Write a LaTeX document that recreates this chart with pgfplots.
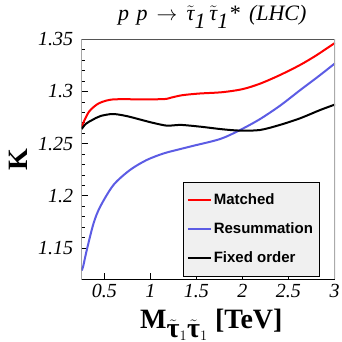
\documentclass[border=0pt]{standalone}
\usepackage{fontspec}
\setmainfont{Liberation Serif}
\newfontfamily\legfont{Liberation Sans}
\usepackage{pgfplots}
\pgfplotsset{compat=1.18}
\definecolor{resblue}{RGB}{92,92,228}
\definecolor{leggray}{RGB}{240,240,240}
\definecolor{topgray}{RGB}{85,85,85}
\definecolor{rightgray}{RGB}{170,170,170}
\newcommand{\ttau}{\tilde{\mbox{τ}}}
\begin{document}
\begin{tikzpicture}
\begin{axis}[
  scale only axis,
  width=253.3pt, height=240pt,
  xmin=0.255, xmax=3.005,
  ymin=1.12, ymax=1.35,
  xtick={0.5,1,1.5,2,2.5,3},
  xticklabels={0.5,1,1.5,2,2.5,3},
  ytick={1.15,1.2,1.25,1.3,1.35},
  yticklabels={1.15,1.2,1.25,1.3,1.35},
  minor y tick num=4,
  tick pos=left,
  tick align=inside,
  major tick length=6pt,
  minor tick length=3pt,
  tick style={black, line width=0.8pt},
  axis line style={draw=none},
  ticklabel style={font=\fontsize{20}{22}\selectfont\itshape},
  yticklabel style={xshift=-5pt},
  xticklabel style={yshift=-1pt},
  title={\fontsize{22}{24}\selectfont\itshape p\,\,p\, $\rightarrow$\, $\ttau_{\mbox{\itshape 1}}\,\ttau_{\mbox{\itshape 1}}$*\, (LHC)},
  title style={at={(rel axis cs:0.5,1)}, anchor=base, yshift=12.6pt, xshift=4pt},
  xlabel={\fontsize{28}{30}\selectfont\bfseries M$_{\ttau_1\ttau_1}$ [TeV]},
  ylabel={\fontsize{28}{30}\selectfont\bfseries K},
  xlabel style={at={(rel axis cs:0.5,0)}, anchor=base, yshift=-49pt, xshift=3pt},
  ylabel style={at={(rel axis cs:0,0.5)}, anchor=center, yshift=63pt},
  legend style={at={(rel axis cs:0.399,0.012)}, anchor=south west,
    fill=leggray, draw=black, line width=0.8pt,
    font=\fontsize{15}{17}\selectfont\legfont\bfseries,
    row sep=12.5pt, inner xsep=4pt, inner ysep=10pt},
  legend cell align=left,
  legend image code/.code={\draw[#1, line width=1.6pt] (0pt,0pt) -- (23pt,0pt);},
  every axis plot/.append style={line width=2pt},
]
\addplot[red, smooth] coordinates {
(0.255,1.2655) (0.28,1.2715) (0.334,1.2806) (0.39,1.2855) (0.442,1.2887) (0.52,1.2912)
(0.622,1.2925) (0.916,1.2925) (1.15,1.2927) (1.23,1.2942) (1.346,1.2964)
(1.527,1.2980) (1.78,1.2993) (2.0,1.3022) (2.192,1.3075) (2.409,1.3158) (2.626,1.3254)
(2.80,1.3345) (2.97,1.3445) (3.005,1.3465)};
\addlegendentry{Matched}
\addplot[resblue, smooth] coordinates {
(0.255,1.1285) (0.27,1.1320) (0.31,1.1480) (0.384,1.1737) (0.456,1.1896) (0.60,1.2104)
(0.78,1.2248) (0.96,1.2343) (1.14,1.2405) (1.31,1.2445) (1.46,1.2478) (1.76,1.2545)
(1.975,1.2631) (2.19,1.2735) (2.41,1.2865) (2.63,1.3015) (2.84,1.3155) (3.005,1.3270)};
\addlegendentry{Resummation}
\addplot[black, smooth] coordinates {
(0.255,1.2640) (0.30,1.2690) (0.37,1.2727) (0.46,1.2765) (0.587,1.2784) (0.70,1.2772)
(0.80,1.2752) (0.98,1.2710) (1.10,1.2685) (1.183,1.2672) (1.26,1.2676) (1.346,1.2679)
(1.55,1.2662) (1.78,1.2638) (1.975,1.2625) (2.192,1.2631) (2.409,1.2680) (2.626,1.2743)
(2.843,1.2822) (3.005,1.2875)};
\addlegendentry{Fixed order}
\draw[topgray, line width=1.3pt] (rel axis cs:0,1) -- (rel axis cs:1,1);
\draw[rightgray, line width=1.3pt] (rel axis cs:1,0) -- (rel axis cs:1,1);
\draw[black, line width=1.3pt] (rel axis cs:0,1) -- (rel axis cs:0,0) -- (rel axis cs:1,0);
\coordinate (bl) at (rel axis cs:0,0);
\coordinate (tr) at (rel axis cs:1,1);
\end{axis}
\pgfresetboundingbox
\useasboundingbox ([xshift=-81.7pt,yshift=-62.7pt]bl) rectangle ([xshift=6pt,yshift=39.3pt]tr);
\end{tikzpicture}
\end{document}
